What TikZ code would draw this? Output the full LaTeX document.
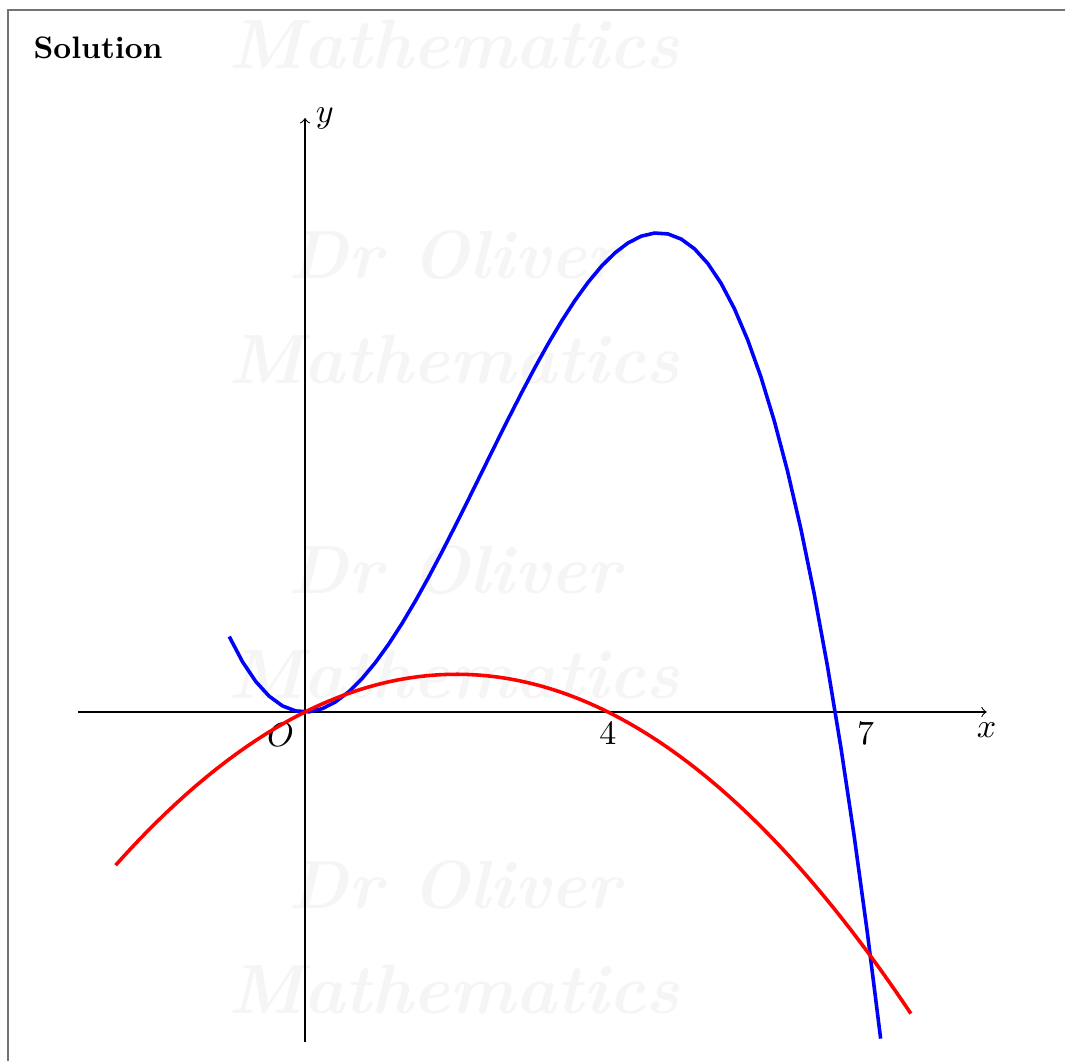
\documentclass[tikz,border=0pt]{standalone}
\usepackage{graphicx}
\begin{document}
\begin{tikzpicture}[x=0.322pt,y=0.322pt,
  wm/.style={text=black!4, inner sep=0pt},
  lab/.style={font=\fontsize{11}{13}\selectfont},
  curveblue/.style={blue, line width=1.15pt},
  curvered/.style={red, line width=1.15pt},
  axis/.style={line width=0.35pt, ->}]
\useasboundingbox (0,0) rectangle (1065,1061);
\clip (0,0) rectangle (1065,1061);
% frame
\draw[black!55, line width=0.45pt] (8,-20) -- (8,1051) -- (1080,1051);
% watermark
\foreach \yy in {1016,701,386,71} {
  \node[wm] at (454,\yy) {\resizebox{145.5pt}{!}{\bfseries\itshape Mathematics}};
}
\foreach \yy in {806,491,176} {
  \node[wm] at (455,\yy) {\resizebox{107pt}{!}{\bfseries\itshape Dr Oliver}};
}
% title
\node[anchor=west, font=\bfseries, inner sep=0pt] (sol) at (33,1013) {Solution};
\coordinate (O) at (305,349);
\begin{scope}[shift={(O)}, x=24.39pt, y=3.036pt]
  \coordinate (xa) at (-3,0);
  \coordinate (xb) at (9,0);
  \coordinate (ya) at (0,-35);
  \coordinate (yb) at (0,63);
  \draw[axis] (xa) -- (xb) node[below, lab] (xl) {$x$};
  \draw[axis] (ya) -- (yb) node[right, lab] (yl) {$y$};
  \node[below left, lab] (ol) at (0,0) {$O$};
  \node[below, lab] (l4) at (4,0) {$4$};
  \node[below, lab] (l7) at (7.4,0) {$7$};
  \draw[curveblue] plot[domain=-1:7.6, samples=50] (\x, {\x*\x*(7-\x)});
  \draw[curvered] plot[domain=-2.5:8, samples=80] (\x, {\x*(4-\x)});
\end{scope}
\end{tikzpicture}
\end{document}
